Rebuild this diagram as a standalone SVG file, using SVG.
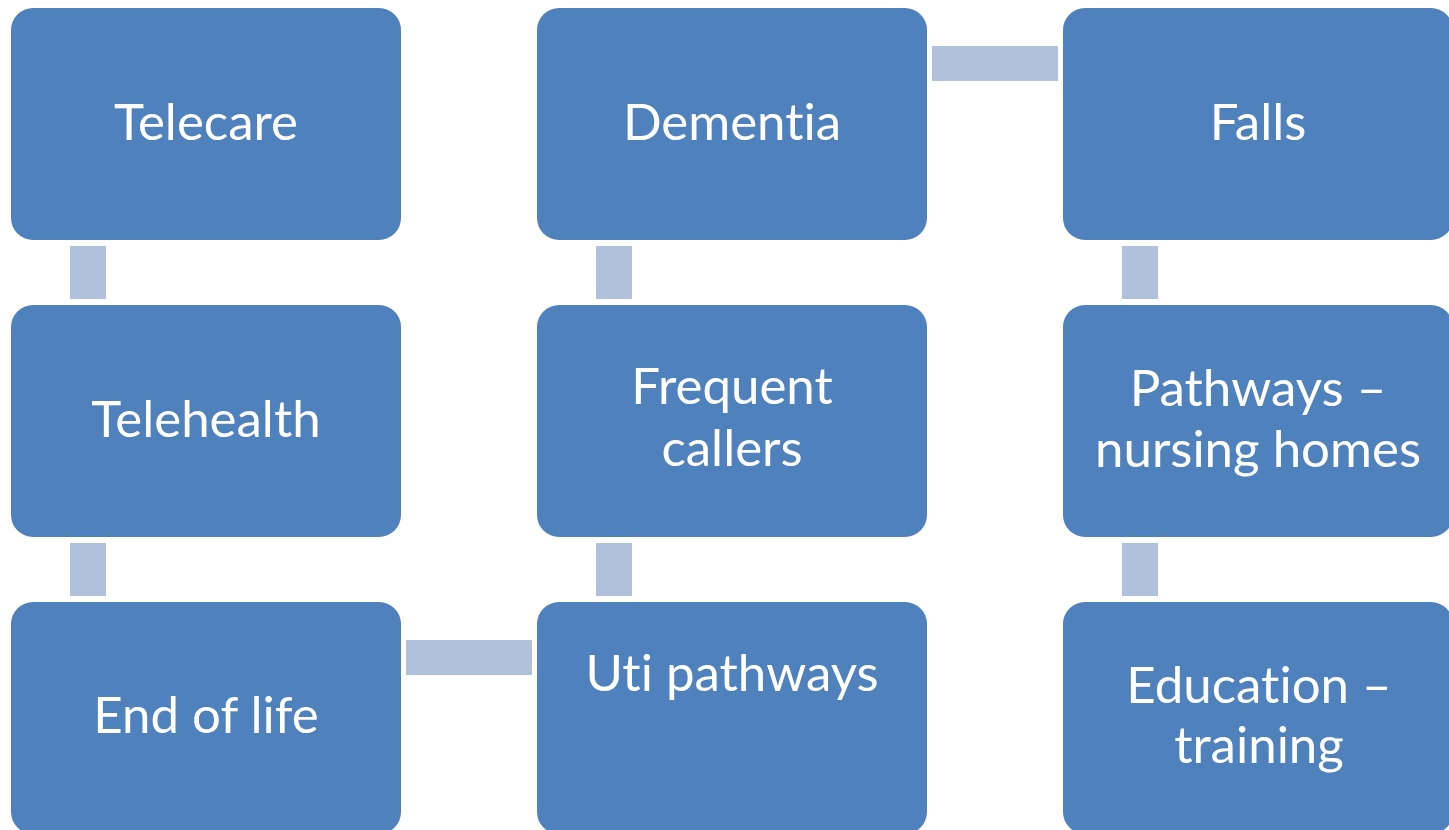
<svg xmlns="http://www.w3.org/2000/svg" width="1449" height="830" viewBox="0 0 1449 830">
<style>
.box{fill:#4F81BD;}
.conn{fill:#B1C1DB;}
.lbl{font-family:Lato,"Open Sans","Liberation Sans",sans-serif;font-size:51px;fill:#FFFFFF;text-anchor:middle;font-variant-ligatures:none;font-feature-settings:"liga" 0,"clig" 0,"dlig" 0;}
</style>
<rect width="1449" height="830" fill="#FFFFFF"/>
<g id="connectors">
<rect class="conn" x="70" y="246" width="36" height="53"/>
<rect class="conn" x="70" y="543" width="36" height="53"/>
<rect class="conn" x="406" y="640" width="126" height="35"/>
<rect class="conn" x="596" y="543" width="36" height="53"/>
<rect class="conn" x="596" y="246" width="36" height="53"/>
<rect class="conn" x="932" y="46" width="126" height="35"/>
<rect class="conn" x="1122" y="246" width="36" height="53"/>
<rect class="conn" x="1122" y="543" width="36" height="53"/>
</g>
<g id="telecare">
<rect class="box" x="11" y="8" width="390" height="232" rx="22"/>
<text class="lbl" x="206" y="140">Telecare</text>
</g>
<g id="telehealth">
<rect class="box" x="11" y="305" width="390" height="232" rx="22"/>
<text class="lbl" x="206" y="437">Telehealth</text>
</g>
<g id="end-of-life">
<rect class="box" x="11" y="602" width="390" height="232" rx="22"/>
<text class="lbl" x="206" y="733">End of life</text>
</g>
<g id="uti-pathways">
<rect class="box" x="537" y="602" width="390" height="232" rx="22"/>
<text class="lbl" x="732" y="691">Uti pathways</text>
</g>
<g id="frequent-callers">
<rect class="box" x="537" y="305" width="390" height="232" rx="22"/>
<text class="lbl" x="732" y="404">Frequent</text>
<text class="lbl" x="732" y="466">callers</text>
</g>
<g id="dementia">
<rect class="box" x="537" y="8" width="390" height="232" rx="22"/>
<text class="lbl" x="732" y="140">Dementia</text>
</g>
<g id="falls">
<rect class="box" x="1063" y="8" width="390" height="232" rx="22"/>
<text class="lbl" x="1258" y="140">Falls</text>
</g>
<g id="pathways-nursing-homes">
<rect class="box" x="1063" y="305" width="390" height="232" rx="22"/>
<text class="lbl" x="1258" y="406">Pathways –</text>
<text class="lbl" x="1258" y="467">nursing homes</text>
</g>
<g id="education-training">
<rect class="box" x="1063" y="602" width="390" height="232" rx="22"/>
<text class="lbl" x="1259" y="703">Education –</text>
<text class="lbl" x="1259" y="763">training</text>
</g>
</svg>
